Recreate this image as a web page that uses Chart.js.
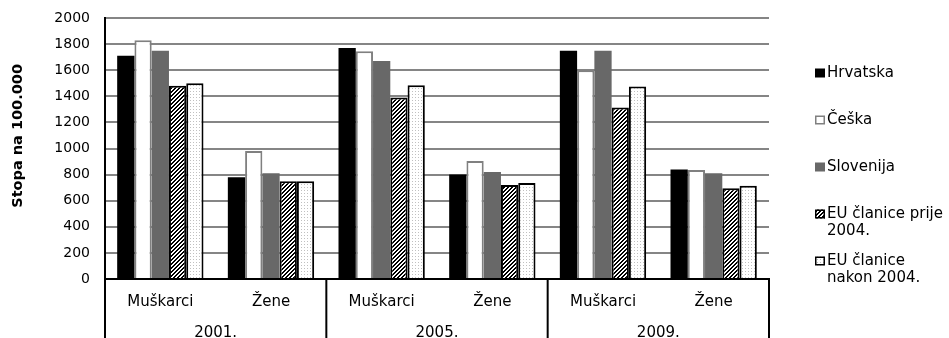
<!DOCTYPE html>
<html>
<head>
<meta charset="utf-8">
<script src="https://cdn.jsdelivr.net/npm/chart.js@4.4.1/dist/chart.umd.min.js"></script>
<style>
  html, body { margin: 0; padding: 0; background: #fff; }
  #wrap { width: 949px; height: 338px; position: relative; }
</style>
</head>
<body>
<div id="wrap"><canvas id="c" width="949" height="338"></canvas></div>
<script>
// ---- data ----
const categories = ['Muškarci', 'Žene', 'Muškarci', 'Žene', 'Muškarci', 'Žene'];
const years = ['2001.', '2005.', '2009.'];
const seriesNames = ['Hrvatska', 'Češka', 'Slovenija', 'EU članice prije 2004.', 'EU članice nakon 2004.'];
const legendLines = [['Hrvatska'], ['Češka'], ['Slovenija'], ['EU članice prije', '2004.'], ['EU članice', 'nakon 2004.']];
const hrvatska  = [1710, 780, 1770, 800, 1750, 840];
const ceska     = [1830, 980, 1745, 905, 1600, 835];
const slovenija = [1750, 810, 1670, 820, 1750, 810];
const euPrije   = [1480, 750, 1390, 720, 1315, 695];
const euNakon   = [1500, 750, 1485, 735, 1475, 715];
const yMin = 0, yMax = 2000, yStep = 200;
const yTitle = 'Stopa na 100.000';

// ---- patterns ----
function hatchPattern() {
  const t = document.createElement('canvas');
  t.width = 4; t.height = 4;
  const g = t.getContext('2d');
  g.fillStyle = '#fff'; g.fillRect(0, 0, 4, 4);
  g.fillStyle = '#000';
  for (let x = 0; x < 4; x++) for (let y = 0; y < 4; y++) {
    const s = (x + y) % 4;
    if (s === 2 || s === 3) g.fillRect(x, y, 1, 1);
  }
  return g.createPattern(t, 'repeat');
}
function dotPattern() {
  const t = document.createElement('canvas');
  t.width = 3; t.height = 3;
  const g = t.getContext('2d');
  g.fillStyle = '#fff'; g.fillRect(0, 0, 3, 3);
  g.fillStyle = '#c0c0c0';
  g.fillRect(1, 1, 1, 1);
  return g.createPattern(t, 'repeat');
}
const hatch = hatchPattern();
const dots = dotPattern();

const styles = [
  { bg: '#000000', border: '#000000', bw: 0 },
  { bg: '#ffffff', border: '#808080', bw: 2 },
  { bg: '#686868', border: '#686868', bw: 0 },
  { bg: hatch, border: '#000000', bw: 2 },
  { bg: dots, border: '#000000', bw: 2 }
];
const seriesData = [hrvatska, ceska, slovenija, euPrije, euNakon];

const FONT = 'DejaVu Sans';

// separators below the axis (multi-level category boxes)
const separatorPlugin = {
  id: 'separators',
  afterDraw(chart) {
    const ctx = chart.ctx, xs = chart.scales.x, ca = chart.chartArea;
    const xsList = [ca.left];
    for (let g = 1; g < years.length; g++) {
      const a = xs.getPixelForValue(2 * g - 1), b = xs.getPixelForValue(2 * g);
      xsList.push((a + b) / 2);
    }
    xsList.push(ca.right);
    ctx.save();
    ctx.strokeStyle = '#000';
    ctx.lineWidth = 2;
    xsList.forEach(x => {
      ctx.beginPath();
      ctx.moveTo(x, ca.bottom);
      ctx.lineTo(x, chart.height);
      ctx.stroke();
    });
    ctx.restore();
  }
};

// legend on the right
const legendPlugin = {
  id: 'sideLegend',
  afterDraw(chart) {
    const ctx = chart.ctx, ca = chart.chartArea;
    const bx = ca.right + 46, tx = ca.right + 58;
    const y0 = 73, step = 47, lh = 17.5;
    ctx.save();
    ctx.font = '15px "' + FONT + '"';
    ctx.textBaseline = 'middle';
    ctx.textAlign = 'left';
    chart.data.datasets.forEach((ds, i) => {
      const yc = y0 + step * i;
      const st = styles[i];
      ctx.fillStyle = st.bg;
      ctx.fillRect(bx, yc - 4.5, 10, 9);
      if (st.bw) {
        ctx.strokeStyle = st.border;
        ctx.lineWidth = 1.5;
        ctx.strokeRect(bx + 0.75, yc - 3.75, 8.5, 7.5);
      }
      ctx.fillStyle = '#000';
      legendLines[i].forEach((line, k) => {
        ctx.fillText(line, tx, yc + k * lh);
      });
    });
    ctx.restore();
  }
};

new Chart(document.getElementById('c'), {
  type: 'bar',
  data: {
    labels: categories,
    datasets: seriesData.map((d, i) => ({
      label: seriesNames[i],
      data: d,
      backgroundColor: styles[i].bg,
      borderColor: styles[i].border,
      borderWidth: styles[i].bw,
      borderSkipped: 'start',
      categoryPercentage: 0.78,
      barPercentage: 1.0
    }))
  },
  options: {
    responsive: false,
    animation: false,
    devicePixelRatio: 1,
    layout: { padding: { left: 0, right: 180, top: 8, bottom: 0 } },
    plugins: { legend: { display: false }, tooltip: { enabled: false } },
    scales: {
      y: {
        min: yMin, max: yMax,
        ticks: { stepSize: yStep, color: '#000', padding: 15, font: { family: FONT, size: 14, lineHeight: 0.43 },
                 callback: (v) => String(v) },
        grid: { color: '#858585', lineWidth: 2, drawTicks: false },
        border: { display: true, color: '#000', width: 2 },
        title: { display: true, text: '\u00a0\u00a0\u00a0\u00a0\u00a0' + yTitle, color: '#000', padding: { top: 10, bottom: 0 }, font: { family: FONT, size: 14.5, weight: 'bold' } },
        afterFit(scale) { scale.width = 105; }
      },
      x: {
        position: 'bottom',
        ticks: { color: '#000', padding: 14, font: { family: FONT, size: 15 }, maxRotation: 0, autoSkip: false },
        grid: { display: false, drawTicks: false },
        border: { display: true, color: '#000', width: 2 },
        afterFit(scale) { scale.height = 35; }
      },
      x2: {
        type: 'category',
        position: 'bottom',
        labels: years,
        offset: true,
        ticks: { color: '#000', padding: 10, font: { family: FONT, size: 15 }, maxRotation: 0, autoSkip: false },
        grid: { display: false, drawTicks: false },
        border: { display: false },
        afterFit(scale) { scale.height = 24; }
      }
    }
  },
  plugins: [separatorPlugin, legendPlugin]
});
</script>
</body>
</html>
